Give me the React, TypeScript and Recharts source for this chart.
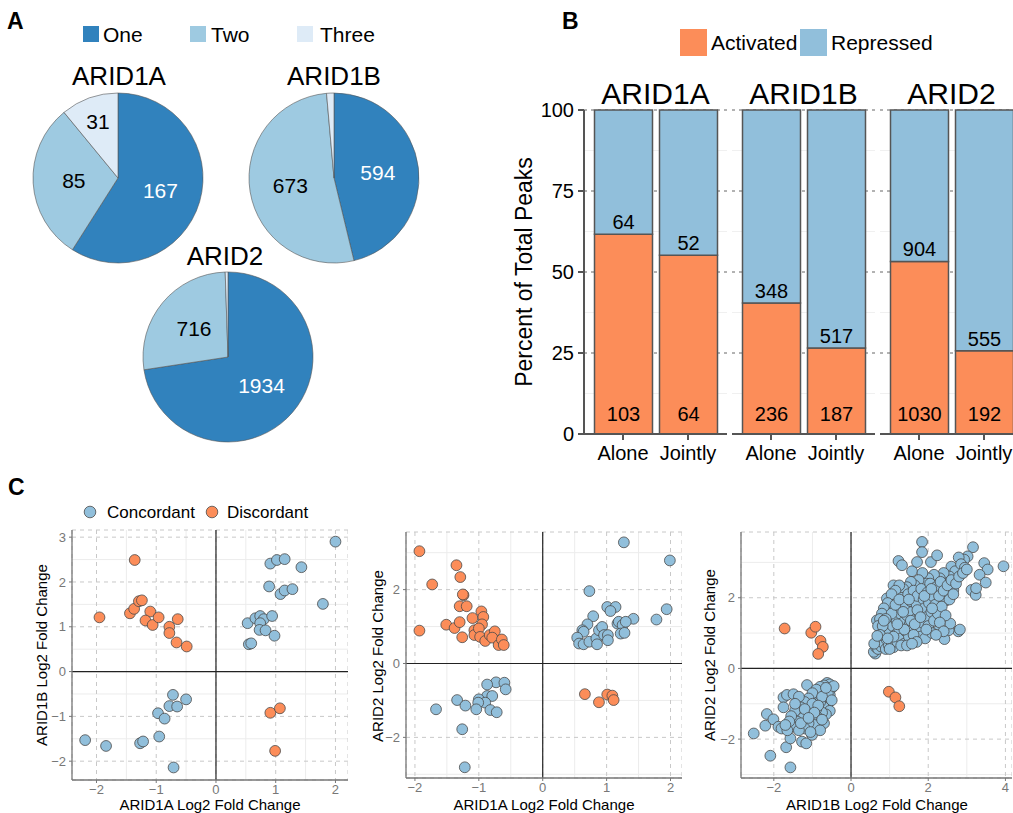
import React from "react";
import {
  PieChart,
  Pie,
  Cell,
  BarChart,
  Bar,
  XAxis,
  YAxis,
  CartesianGrid,
  LabelList,
  ReferenceLine,
  ScatterChart,
  Scatter,
} from "recharts";

const FONT = "'Liberation Sans', Arial, Helvetica, sans-serif";

// ---- panel A: pies
const pieGroups = ["One", "Two", "Three"];
const pieColors = ["#3182bd", "#9ecae1", "#deebf7"];
const arid1aCounts = [167, 85, 31];
const arid1bCounts = [594, 673, 18];
const arid2Counts = [1934, 716, 14];

// ---- panel B: stacked bars
const facets = ["ARID1A", "ARID1B", "ARID2"];
const modes = ["Alone", "Jointly"];
const activatedCounts = [
  [103, 64],
  [236, 187],
  [1030, 192],
];
const repressedCounts = [
  [64, 52],
  [348, 517],
  [904, 555],
];
const pctTicks = [0, 25, 50, 75, 100];
const pctMinor = [12.5, 37.5, 62.5, 87.5];

const ORANGE = "#fc8d59";
const BLUE = "#91bfdb";

// ---- panel C: scatter plots (x, y log2 fold changes)
const s1Concordant = [
  [2.0, 2.9], [0.91, 2.41], [1.02, 2.49], [1.15, 2.51], [1.43, 2.33], [0.89, 1.9], [1.08, 1.73],
  [1.15, 1.81], [1.28, 1.84], [1.79, 1.51], [0.53, 1.08], [0.66, 1.19], [0.74, 1.24], [0.8, 1.17],
  [0.94, 1.24], [0.74, 1.08], [0.73, 0.93], [0.83, 0.92], [0.98, 0.8], [0.55, 0.61], [0.59, 0.63],
  [-0.72, -0.52], [-0.5, -0.62], [-0.78, -0.77], [-0.65, -0.78], [-0.97, -0.93], [-0.86, -1.05],
  [-0.95, -1.45], [-1.27, -1.6], [-1.22, -1.56], [-2.19, -1.53], [-1.84, -1.66], [-0.71, -2.14],
];
const s1Discordant = [
  [-1.36, 2.49], [-1.95, 1.21], [-1.44, 1.3], [-1.37, 1.4], [-1.29, 1.57], [-1.24, 1.59],
  [-1.1, 1.34], [-1.18, 1.14], [-1.06, 1.04], [-0.96, 1.21], [-0.78, 1.0], [-0.78, 0.86],
  [-0.64, 1.17], [-0.66, 0.65], [-0.49, 0.56], [0.91, -0.92], [1.07, -0.82], [0.99, -1.77],
];

const s2Concordant = [
  [1.27, 3.28], [1.99, 2.79], [0.73, 1.96], [1.94, 1.47], [1.78, 1.19], [1.42, 1.21], [1.01, 1.53],
  [1.14, 1.53], [1.06, 1.42], [0.79, 1.28], [0.7, 1.06], [0.62, 0.9], [0.64, 0.86], [0.54, 0.7],
  [0.57, 0.54], [0.64, 0.52], [0.73, 0.59], [0.84, 0.68], [0.88, 0.9], [0.93, 0.99], [0.96, 0.77],
  [1.02, 0.77], [1.02, 0.63], [0.85, 0.52], [1.17, 1.08], [1.19, 1.13], [1.25, 1.04], [1.22, 0.81],
  [1.28, 0.83], [1.3, 1.13],
  [-0.73, -0.51], [-0.87, -0.57], [-0.6, -0.52], [-0.58, -0.7], [-0.87, -0.88], [-0.79, -0.88],
  [-1.0, -0.97], [-0.9, -1.06], [-1.01, -1.06], [-1.34, -0.99], [-1.21, -1.14], [-1.04, -1.24],
  [-0.82, -1.26], [-0.72, -1.32], [-1.67, -1.24], [-1.26, -1.78], [-1.22, -2.81],
];
const s2Discordant = [
  [-1.93, 3.04], [-1.35, 2.66], [-1.73, 2.14], [-1.29, 2.34], [-1.24, 1.85], [-1.25, 1.87],
  [-1.3, 1.55], [-1.19, 1.55], [-1.93, 0.89], [-1.51, 1.05], [-1.38, 0.96], [-1.3, 1.12],
  [-1.26, 0.71], [-1.1, 1.23], [-0.96, 1.41], [-0.93, 1.26], [-0.95, 1.06], [-1.07, 0.9],
  [-1.07, 0.77], [-1.0, 0.95], [-0.98, 0.72], [-0.9, 0.61], [-0.83, 0.77], [-0.75, 0.87],
  [-0.79, 0.7], [-0.69, 0.5], [-0.64, 0.65], [-0.61, 0.5],
  [0.66, -0.83], [0.88, -1.05], [1.01, -0.84], [1.09, -0.87], [1.11, -0.99],
];

const s3Concordant = [
  [1.84, 3.58], [1.84, 3.29], [1.23, 3.04], [1.32, 2.92], [1.58, 2.75], [1.71, 3.01], [2.07, 3.01],
  [2.23, 3.2], [3.16, 3.43], [3.02, 3.17], [2.93, 3.08], [2.79, 3.14], [3.45, 2.98], [3.54, 2.8],
  [3.95, 2.89], [3.33, 2.65], [3.49, 2.43], [3.12, 2.22], [3.23, 2.08], [3.24, 2.27], [2.65, 2.22],
  [2.78, 1.05], [2.82, 1.1], [2.42, 0.83], [2.27, 1.08], [2.53, 1.08], [2.57, 1.27], [2.47, 1.93],
  [0.63, 0.42], [0.59, 0.47], [0.67, 1.36], [0.93, 1.98], [1.1, 2.35],
  [2.6, 2.88], [2.7, 2.75], [2.55, 2.6], [2.85, 2.95], [2.95, 2.85], [2.4, 2.7], [2.3, 2.55],
  [2.15, 2.65], [2.0, 2.55], [1.95, 2.4], [1.85, 2.7], [1.75, 2.5], [1.65, 2.35], [1.55, 2.45],
  [1.45, 2.3], [1.35, 2.25], [1.25, 2.35], [1.15, 2.2], [1.05, 2.1], [0.95, 1.85], [0.85, 1.7],
  [0.8, 1.55], [0.75, 1.4], [0.7, 1.2],
  [0.65, 0.6], [0.7, 0.55], [0.72, 0.75], [0.78, 0.62], [0.8, 0.9], [0.85, 0.7], [0.88, 1.05],
  [0.9, 0.55], [0.92, 0.82], [0.95, 1.25], [0.98, 0.65], [1.0, 1.0], [1.02, 1.45], [1.05, 0.75],
  [1.08, 1.2], [1.1, 0.6], [1.12, 1.65], [1.15, 0.95], [1.18, 1.35], [1.2, 0.75], [1.22, 1.85],
  [1.25, 1.1], [1.28, 1.55], [1.3, 0.85], [1.32, 2.0], [1.35, 1.3], [1.38, 0.7], [1.4, 1.75],
  [1.42, 1.05], [1.45, 1.5], [1.48, 2.1], [1.5, 0.9], [1.52, 1.25], [1.55, 1.9], [1.58, 1.6],
  [1.6, 1.15], [1.62, 2.2], [1.65, 0.8], [1.68, 1.4], [1.7, 1.8], [1.72, 2.05], [1.75, 1.1],
  [1.78, 1.55], [1.8, 0.9], [1.82, 2.25], [1.85, 1.3], [1.88, 1.95], [1.9, 1.7], [1.92, 0.85],
  [1.95, 1.45], [1.98, 2.15], [2.0, 1.2], [2.02, 1.85], [2.05, 2.4], [2.08, 1.6], [2.1, 1.0],
  [2.12, 2.05], [2.15, 1.35], [2.18, 1.8], [2.2, 2.3], [2.25, 1.55], [2.28, 2.05], [2.32, 2.45],
  [2.35, 1.75], [2.4, 2.2], [2.45, 1.5], [2.5, 2.35], [2.55, 1.95], [2.6, 2.5], [2.65, 2.1],
  [2.72, 2.4], [2.8, 2.6], [2.9, 2.7], [3.0, 2.8], [1.3, 0.65], [1.05, 1.55], [0.82, 1.2],
  [1.45, 0.65], [1.62, 0.95], [1.0, 0.55], [0.75, 0.95], [1.15, 1.8], [0.6, 0.7], [0.68, 0.92],
  [0.9, 1.4], [1.25, 1.95], [1.38, 1.1], [1.55, 1.35], [1.72, 1.65], [1.9, 2.05], [2.08, 2.25],
  [1.35, 1.6], [1.5, 1.95], [1.65, 1.25], [1.8, 1.45], [1.95, 1.1], [2.1, 1.7], [1.2, 1.25],
  [1.1, 0.9], [0.95, 0.85], [0.85, 1.35], [2.3, 1.3], [2.4, 1.05], [2.2, 0.95], [1.7, 0.75],
  [1.58, 0.7],
  [-2.52, -1.84], [-2.09, -2.47], [-1.57, -2.8], [-1.68, -2.23], [-2.18, -1.29], [-2.22, -1.62],
  [-2.01, -1.44], [-1.75, -0.82], [-1.66, -0.75], [-1.49, -0.73], [-1.14, -0.47], [-0.62, -0.41],
  [-1.27, -2.07], [-1.16, -2.12], [-1.01, -1.88], [-1.57, -1.98], [-1.75, -1.1], [-1.88, -1.65],
  [-1.8, -1.7],
  [-0.55, -0.45], [-0.5, -0.55], [-0.6, -0.6], [-0.7, -0.48], [-0.75, -0.65], [-0.8, -0.52],
  [-0.55, -0.75], [-0.65, -0.85], [-0.85, -0.75], [-0.9, -0.6], [-0.95, -0.9], [-0.6, -1.0],
  [-0.7, -1.1], [-0.8, -0.95], [-1.0, -0.7], [-1.05, -1.05], [-0.55, -1.2], [-0.65, -1.3],
  [-0.75, -1.25], [-0.9, -1.15], [-1.1, -0.85], [-1.15, -1.25], [-1.2, -0.95], [-0.85, -1.4],
  [-1.0, -1.35], [-1.25, -1.4], [-1.3, -1.1], [-1.35, -0.8], [-0.7, -1.55], [-0.95, -1.6],
  [-1.1, -1.55], [-1.4, -1.5], [-1.45, -1.2], [-1.5, -1.65], [-1.55, -1.35], [-1.6, -1.5],
  [-1.2, -1.7], [-0.8, -1.75], [-1.35, -1.75], [-1.65, -1.75], [-1.05, -1.8], [-0.6, -0.7],
  [-0.75, -0.8], [-1.0, -1.0], [-0.5, -0.9], [-0.85, -1.05], [-1.2, -1.15], [-0.95, -1.25],
  [-1.3, -1.55], [-1.7, -1.6], [-0.45, -0.5], [-0.65, -0.55], [-1.1, -1.4], [-1.45, -1.0],
  [-0.75, -1.45],
];
const s3Discordant = [
  [-1.72, 1.13], [-1.03, 1.01], [-0.92, 1.18], [-0.79, 0.78], [-0.73, 0.61], [-0.85, 0.41],
  [0.98, -0.66], [1.15, -0.82], [1.25, -1.07],
];

const toPts = (arr: number[][]) => arr.map(([x, y]) => ({ x, y }));
const minus = (v: number) => (v < 0 ? `\u2212${-v}` : `${v}`);

const RAD = Math.PI / 180;
const renderPieLabel = (p: any) => {
  if (p.percent < 0.03) return null;
  const r = p.outerRadius * (p.percent < 0.15 ? 0.7 : 0.52);
  const x = p.cx + r * Math.cos(-p.midAngle * RAD);
  const y = p.cy + r * Math.sin(-p.midAngle * RAD);
  return (
    <text x={x} y={y} fill={p.index === 0 ? "#fff" : "#000"} textAnchor="middle"
      dominantBaseline="central" fontSize={21} fontFamily={FONT}>
      {p.value}
    </text>
  );
};

function PiePanel() {
  const pies = [
    { counts: arid1aCounts, cx: 118, cy: 178 },
    { counts: arid1bCounts, cx: 334, cy: 178 },
    { counts: arid2Counts, cx: 228, cy: 357 },
  ];
  return (
    <div style={{ position: "absolute", left: 0, top: 0 }}>
      <PieChart width={440} height={460} margin={{ top: 0, right: 0, bottom: 0, left: 0 }}>
        {pies.map((p, k) => (
          <Pie
            key={k}
            data={pieGroups.map((g, i) => ({ name: g, value: p.counts[i] }))}
            dataKey="value"
            cx={p.cx}
            cy={p.cy}
            outerRadius={85}
            startAngle={90}
            endAngle={-270}
            stroke="#555"
            strokeWidth={0.6}
            label={renderPieLabel}
            labelLine={false}
            isAnimationActive={false}
          >
            {pieGroups.map((g, i) => (
              <Cell key={g} fill={pieColors[i]} />
            ))}
          </Pie>
        ))}
      </PieChart>
    </div>
  );
}

const actLabel = (p: any) => (
  <text x={Number(p.x) + Number(p.width) / 2} y={Number(p.y) + Number(p.height) - 13}
    textAnchor="middle" fontSize={20} fontFamily={FONT} fill="#000">
    {p.value}
  </text>
);
const repLabel = (p: any) => (
  <text x={Number(p.x) + Number(p.width) / 2} y={Number(p.y) + Number(p.height) - 5}
    textAnchor="middle" fontSize={20} fontFamily={FONT} fill="#000">
    {p.value}
  </text>
);

function BarFacet({ idx, left, showY }: { idx: number; left: number; showY: boolean }) {
  const data = modes.map((m, i) => {
    const a = activatedCounts[idx][i];
    const r = repressedCounts[idx][i];
    return { mode: m, act: (a / (a + r)) * 100, rep: (r / (a + r)) * 100, actN: a, repN: r };
  });
  const yw = showY ? 84 : 0;
  return (
    <div style={{ position: "absolute", left: left - yw, top: 0 }}>
      <BarChart width={143 + yw} height={470} data={data}
        margin={{ top: 110, right: 0, bottom: 0, left: 0 }}>
        <CartesianGrid vertical={false} stroke="#f0f0f0" horizontalValues={pctMinor} />
        <CartesianGrid vertical={false} stroke="#666" strokeDasharray="3 4" />
        <XAxis dataKey="mode" height={36} padding={{ left: 6.5, right: 6.5 }}
          axisLine={{ stroke: "#555", strokeWidth: 2 }}
          tickLine={{ stroke: "#555", strokeWidth: 2 }} tickSize={6} tickMargin={6}
          tick={{ fontSize: 20, fill: "#000", fontFamily: FONT }} interval={0} />
        <YAxis hide={!showY} width={yw} domain={[0, 100]} ticks={pctTicks}
          axisLine={{ stroke: "#555", strokeWidth: 2 }}
          tickLine={{ stroke: "#555", strokeWidth: 2 }} tickSize={6} tickMargin={4}
          tick={{ fontSize: 20, fill: "#000", fontFamily: FONT }} />
        <Bar dataKey="act" stackId="s" fill={ORANGE} stroke="#555" strokeWidth={1.5}
          barSize={58} isAnimationActive={false}>
          <LabelList dataKey="actN" content={actLabel} />
        </Bar>
        <Bar dataKey="rep" stackId="s" fill={BLUE} stroke="#555" strokeWidth={1.5}
          barSize={58} isAnimationActive={false}>
          <LabelList dataKey="repN" content={repLabel} />
        </Bar>
      </BarChart>
    </div>
  );
}

const dot = (fill: string) => (p: any) => (
  <circle cx={p.cx} cy={p.cy} r={5.4} fill={fill} stroke="#4a4a4a" strokeWidth={0.8} />
);

type ScatterProps = {
  left: number; yw: number; plotW: number; plotTop: number; plotBottom: number;
  xDomain: number[]; yDomain: number[]; xTicks: number[]; yTicks: number[];
  minorX: number[]; minorY: number[]; conc: number[][]; disc: number[][];
};

function ScatterPanel(s: ScatterProps) {
  const top = 520;
  return (
    <div style={{ position: "absolute", left: s.left, top }}>
      <ScatterChart width={s.yw + s.plotW} height={s.plotBottom - top + 30}
        margin={{ top: s.plotTop - top, right: 0, bottom: 0, left: 0 }}>
        <CartesianGrid stroke="#ececec" horizontalValues={s.minorY} verticalValues={s.minorX} />
        <CartesianGrid stroke="#c8c8c8" strokeDasharray="4 4" />
        <ReferenceLine x={0} stroke="#222" strokeWidth={1.2} />
        <ReferenceLine y={0} stroke="#222" strokeWidth={1.2} />
        <XAxis type="number" dataKey="x" domain={s.xDomain} ticks={s.xTicks} allowDataOverflow
          height={30} axisLine={{ stroke: "#777", strokeWidth: 1.3 }}
          tickLine={{ stroke: "#777" }} tickSize={3} tickMargin={2} tickFormatter={minus}
          tick={{ fontSize: 13, fill: "#777", fontFamily: FONT }} />
        <YAxis type="number" dataKey="y" domain={s.yDomain} ticks={s.yTicks} allowDataOverflow
          width={s.yw} axisLine={{ stroke: "#777", strokeWidth: 1.3 }}
          tickLine={{ stroke: "#777" }} tickSize={3} tickMargin={3} tickFormatter={minus}
          tick={{ fontSize: 13, fill: "#777", fontFamily: FONT }} />
        <Scatter data={toPts(s.conc)} shape={dot(BLUE)} isAnimationActive={false} />
        <Scatter data={toPts(s.disc)} shape={dot(ORANGE)} isAnimationActive={false} />
      </ScatterChart>
    </div>
  );
}

function Overlay() {
  const t = { fontFamily: FONT, fill: "#000" };
  return (
    <svg width={1013} height={813} style={{ position: "absolute", left: 0, top: 0, pointerEvents: "none" }}>
      <text x={7} y={29} fontSize={23} fontWeight="bold" {...t}>A</text>
      <text x={562} y={29} fontSize={23} fontWeight="bold" {...t}>B</text>
      <text x={8} y={495} fontSize={23} fontWeight="bold" {...t}>C</text>

      {pieGroups.map((g, i) => (
        <g key={g}>
          <rect x={[83, 190, 297][i]} y={26} width={16} height={16} fill={pieColors[i]} />
          <text x={[103, 211, 320][i]} y={42} fontSize={21} {...t}>{g}</text>
        </g>
      ))}
      <text x={119} y={85} fontSize={26} textAnchor="middle" {...t}>ARID1A</text>
      <text x={334} y={85} fontSize={26} textAnchor="middle" {...t}>ARID1B</text>
      <text x={225} y={265} fontSize={26} textAnchor="middle" {...t}>ARID2</text>

      <rect x={680} y={29} width={27} height={27} fill={ORANGE} />
      <text x={711} y={50} fontSize={21} {...t}>Activated</text>
      <rect x={800} y={29} width={27} height={27} fill={BLUE} />
      <text x={831} y={50} fontSize={21} {...t}>Repressed</text>
      {facets.map((f, i) => (
        <text key={f} x={655.5 + i * 148} y={104} fontSize={30} textAnchor="middle" {...t}>{f}</text>
      ))}
      <text x={532} y={272} fontSize={23} textAnchor="middle" transform="rotate(-90 532 272)" {...t}>
        Percent of Total Peaks
      </text>

      <circle cx={90} cy={512} r={5.8} fill={BLUE} stroke="#4a4a4a" strokeWidth={0.8} />
      <text x={107} y={518} fontSize={17} {...t}>Concordant</text>
      <circle cx={212} cy={512} r={5.8} fill={ORANGE} stroke="#4a4a4a" strokeWidth={0.8} />
      <text x={227} y={518} fontSize={17} {...t}>Discordant</text>

      <text x={210} y={810} fontSize={15} textAnchor="middle" {...t}>ARID1A Log2 Fold Change</text>
      <text x={544} y={810} fontSize={15} textAnchor="middle" {...t}>ARID1A Log2 Fold Change</text>
      <text x={877} y={810} fontSize={15} textAnchor="middle" {...t}>ARID1B Log2 Fold Change</text>
      <text x={47} y={655} fontSize={15} textAnchor="middle" transform="rotate(-90 47 655)" {...t}>
        ARID1B Log2 Fold Change
      </text>
      <text x={383} y={656} fontSize={15} textAnchor="middle" transform="rotate(-90 383 656)" {...t}>
        ARID2 Log2 Fold Change
      </text>
      <text x={715} y={655} fontSize={15} textAnchor="middle" transform="rotate(-90 715 655)" {...t}>
        ARID2 Log2 Fold Change
      </text>
    </svg>
  );
}

export default function App() {
  return (
    <div style={{ position: "absolute", left: 0, top: 0, width: 1013, height: 813, overflow: "hidden",
      background: "#fff", fontFamily: FONT }}>
      <PiePanel />
      <BarFacet idx={0} left={584} showY />
      <BarFacet idx={1} left={732} showY={false} />
      <BarFacet idx={2} left={880} showY={false} />
      <ScatterPanel left={0} yw={72} plotW={276} plotTop={530} plotBottom={780}
        xDomain={[-2.41, 2.21]} yDomain={[-2.42, 3.16]} xTicks={[-2, -1, 0, 1, 2]}
        yTicks={[-2, -1, 0, 1, 2, 3]} minorX={[-1.5, -0.5, 0.5, 1.5]} minorY={[-1.5, -0.5, 0.5, 1.5, 2.5]}
        conc={s1Concordant} disc={s1Discordant} />
      <ScatterPanel left={350} yw={56} plotW={276} plotTop={532} plotBottom={778}
        xDomain={[-2.14, 2.18]} yDomain={[-3.1, 3.56]} xTicks={[-2, -1, 0, 1, 2]}
        yTicks={[-2, 0, 2]} minorX={[-1.5, -0.5, 0.5, 1.5]} minorY={[-3, -1, 1, 3]}
        conc={s2Concordant} disc={s2Discordant} />
      <ScatterPanel left={690} yw={51} plotW={271} plotTop={532} plotBottom={778}
        xDomain={[-2.85, 4.17]} yDomain={[-3.1, 3.86]} xTicks={[-2, 0, 2, 4]}
        yTicks={[-2, 0, 2]} minorX={[-1, 1, 3]} minorY={[-3, -1, 1, 3]}
        conc={s3Concordant} disc={s3Discordant} />
      <Overlay />
    </div>
  );
}
